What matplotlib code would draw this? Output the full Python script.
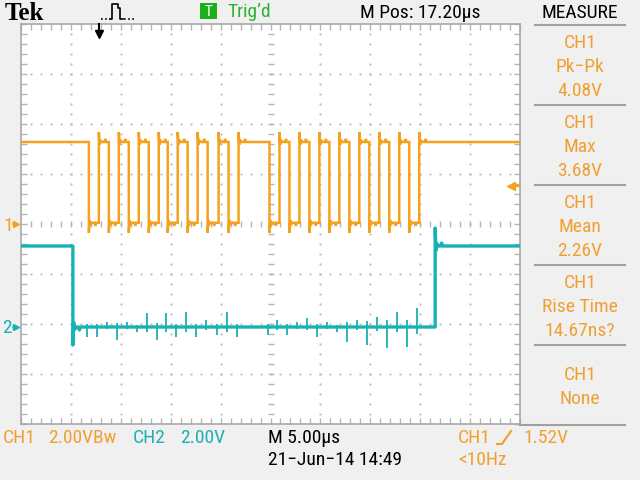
import numpy as np
import matplotlib
matplotlib.use("Agg")
import matplotlib.pyplot as plt
from matplotlib.lines import Line2D
from matplotlib.patches import Rectangle
from matplotlib import font_manager

# ---------------- data ----------------
mpos_us = 17.20            # horizontal position (screen centre), µs after trigger
time_per_div_us = 5.0
ch1_volts_per_div = 2.0
ch2_volts_per_div = 2.0
ch2_ground_div = -2.06     # CH2 ground marker position (divisions)
trig_level_v = 1.52

# CH1 (data/clock bursts): edge times in µs relative to trigger, starts high
ch1_edges_us = [-1.0, 0.0, 1.0, 2.0, 3.0, 4.0, 5.0, 6.0, 6.9, 7.9, 8.9, 9.9,
                10.9, 12.0, 13.0, 14.0,
                17.1, 18.1, 19.1, 20.1, 21.1, 22.1, 23.1, 24.1, 25.1, 26.1,
                27.1, 28.1, 29.1, 30.1, 31.1, 32.1]
ch1_high_v = 3.28
ch1_low_v = 0.05
ch1_overshoot_v = 0.40

# CH2 (chip select): starts high
ch2_edges_us = [-2.6, 33.7]
ch2_high_v = 3.24
ch2_low_v = 0.0
ch2_overshoot_v = 0.72
# crosstalk spikes on CH2 at each CH1 edge (V, signed)
ch2_spike_v = [-0.40, -0.40, 0.20, -0.50, 0.20, -0.20, 0.56, -0.50,
               0.56, -0.40, 0.60, -0.40, 0.30, -0.30, 0.60, -0.40,
               -0.30, 0.30, -0.30, 0.20, 0.36, -0.40, 0.20, -0.20,
               -0.60, 0.30, -0.70, 0.40, -0.84, 0.60, -0.80, 0.76]

meas_source = ["CH1", "CH1", "CH1", "CH1", "CH1"]
meas_name = ["Pk\u2212Pk", "Max", "Mean", "Rise Time", "None"]
meas_value = ["4.08V", "3.68V", "2.26V", "14.67ns?", ""]

# ---------------- styling ----------------
ORANGE = "#F4A21E"
ORANGE_TXT = "#F0A030"
TEAL = "#17B2B2"
TEAL_TXT = "#1FB0B0"
GRID = "#B4B4B4"
BG = "#F0F0F0"

names = {f.name for f in font_manager.fontManager.ttflist}
_pref = ["Liberation Sans Narrow", "Roboto Condensed", "DejaVu Sans Condensed"]
_narrow = [n for n in _pref if n in names]
if _narrow:
    NARROW = [_narrow[0], "DejaVu Sans"]
    FS = 14
else:
    NARROW = ["Liberation Sans", "DejaVu Sans"]
    FS = 13

W, H = 640, 480
fig = plt.figure(figsize=(6.4, 4.8), dpi=100, facecolor=BG)


def P(x, y):
    return (x / W, 1 - y / H)


def ftext(x, y, s, color="black", ha="left", size=None, family=None, **kw):
    fx, fy = P(x, y)
    fig.text(fx, fy, s, color=color, ha=ha, va="baseline", fontsize=size or FS,
             family=family or NARROW, **kw)


def fline(xs, ys, color, lw=1.0, **kw):
    fx = [x / W for x in xs]
    fy = [1 - y / H for y in ys]
    fig.add_artist(Line2D(fx, fy, color=color, lw=lw, transform=fig.transFigure, **kw))


ax = fig.add_axes([21 / W, 1 - 424 / H, 499 / W, 400 / H])
ax.set_facecolor("white")
ax.set_xlim(0, 10)
ax.set_ylim(-4, 4)
for s in ax.spines.values():
    s.set_color("#A8A8A8")
    s.set_linewidth(1.2)
ax.set_xticks(np.arange(0, 10.01, 1.0))
ax.set_yticks(np.arange(-4, 4.01, 1.0))
ax.set_xticks(np.arange(0, 10.01, 0.2), minor=True)
ax.set_yticks(np.arange(-4, 4.01, 0.2), minor=True)
ax.tick_params(which="both", direction="in", length=4, width=1, color=GRID,
               top=True, right=True, labelbottom=False, labelleft=False)

# graticule dots
yy = np.arange(-3.8, 3.81, 0.2)
xx = np.arange(0.2, 9.81, 0.2)
for gx in range(1, 10):
    if gx == 5:
        continue
    ax.plot([gx] * len(yy), yy, ls="none", marker="s", ms=1.3, mew=0, color=GRID)
for gy in range(-3, 4):
    if gy == 0:
        continue
    ax.plot(xx, [gy] * len(xx), ls="none", marker="s", ms=1.3, mew=0, color=GRID)
# centre lines with tick marks
ax.plot(xx, [0] * len(xx), ls="none", marker="|", ms=5, mew=1, color=GRID)
ax.plot([5] * len(yy), yy, ls="none", marker="_", ms=5, mew=1, color=GRID)


def tdiv(t):
    return (np.asarray(t, dtype=float) - (mpos_us - 5 * time_per_div_us)) / time_per_div_us


def square(edges, hi, lo, os_v):
    t0 = mpos_us - 5 * time_per_div_us
    t1 = mpos_us + 5 * time_per_div_us
    ts, vs = [t0], [hi]
    cur = True
    for e in edges:
        prev = hi if cur else lo
        cur = not cur
        new = hi if cur else lo
        sg = 1 if cur else -1
        ts += [e, e, e + 0.08, e + 0.2, e + 0.35, e + 0.55, e + 0.65, e + 0.75]
        vs += [prev, new + sg * os_v, new - sg * os_v * 0.25, new + sg * os_v * 0.12,
               new, new, new + sg * 0.12, new]
    ts.append(t1)
    vs.append(hi if cur else lo)
    return np.array(ts), np.array(vs)


# CH1 trace
t1, v1 = square(ch1_edges_us, ch1_high_v, ch1_low_v, ch1_overshoot_v)
ax.plot(tdiv(t1), v1 / ch1_volts_per_div, color=ORANGE, lw=1.8, solid_joinstyle="miter",
        zorder=5)

# CH2 trace
t2, v2 = square(ch2_edges_us, ch2_high_v, ch2_low_v, ch2_overshoot_v)
ax.plot(tdiv(t2), v2 / ch2_volts_per_div + ch2_ground_div, color=TEAL, lw=2.4, zorder=4)
sp_t = tdiv(np.array(ch1_edges_us) - 0.2)
sp_a = np.array(ch2_spike_v)
base = ch2_low_v / ch2_volts_per_div + ch2_ground_div
ax.vlines(sp_t, base - 0.35 * sp_a / ch2_volts_per_div, base + sp_a / ch2_volts_per_div,
          color=TEAL, lw=1.3, zorder=4)

# channel markers
ax.plot([-0.1], [0.0], marker=">", ms=5, color=ORANGE, clip_on=False)
ax.plot([-0.16, -0.08], [0.0, 0.0], color=ORANGE, lw=1.2, clip_on=False)
ax.plot([-0.1], [ch2_ground_div], marker=">", ms=5, color=TEAL, clip_on=False)
ax.plot([-0.16, -0.08], [ch2_ground_div] * 2, color=TEAL, lw=1.2, clip_on=False)
ftext(3, 231, "1", color=ORANGE_TXT)
ftext(2, 333, "2", color=TEAL_TXT)

# trigger level marker (right)
ty = trig_level_v / ch1_volts_per_div
ax.plot([9.82], [ty], marker="<", ms=6, color=ORANGE, clip_on=False, zorder=6)
ax.plot([9.82, 10.0], [ty, ty], color=ORANGE, lw=1.5, clip_on=False, zorder=6)

# trigger position marker (top)
tx = float(tdiv(0.0))
ax.plot([tx, tx], [4.0, 3.82], color="black", lw=1.5, clip_on=False, zorder=6)
ax.plot([tx], [3.80], marker="v", ms=6, color="black", clip_on=False, zorder=6)

# ---------------- header ----------------
ftext(5, 20, "Tek", size=18, family=["Liberation Serif", "DejaVu Serif"], weight="bold")
# pulse icon
fline([101, 110], [19, 19], "black", lw=1.2, ls=(0, (1, 1.5)))
fline([110, 112, 112, 118, 118, 120, 120, 123], [19, 19, 4, 4, 8, 8, 19, 19], "black", lw=1.2)
fline([124, 135], [19, 19], "black", lw=1.2, ls=(0, (1, 1.5)))
fig.add_artist(Rectangle(P(200, 19), 17 / W, 16 / H, transform=fig.transFigure,
                         facecolor="#1CAF1C", edgecolor="none"))
ftext(208.5, 16.5, "T", color="white", ha="center", size=11)
ftext(227, 17, "Trig\u2019d", color="#2AB22A")
ftext(360, 18, "M Pos: 17.20\u00b5s")
ftext(580, 18, "MEASURE", ha="center")

# ---------------- measure panel ----------------
for k in range(5):
    ys = 25 + 80 * k
    fline([535, 625], [ys, ys], "#A0A0A0", lw=1.5)
fline([520, 625], [424.5, 424.5], "#A0A0A0", lw=1.5)
for k in range(5):
    ys = 25 + 80 * k
    if meas_value[k]:
        ftext(580, ys + 23.5, meas_source[k], color=ORANGE_TXT, ha="center")
        ftext(580, ys + 47.5, meas_name[k], color=ORANGE_TXT, ha="center")
        ftext(580, ys + 71.5, meas_value[k], color=ORANGE_TXT, ha="center")
    else:
        ftext(580, ys + 34.5, meas_source[k], color=ORANGE_TXT, ha="center")
        ftext(580, ys + 58.5, meas_name[k], color=ORANGE_TXT, ha="center")

# ---------------- footer ----------------
ftext(3, 443, "CH1", color=ORANGE_TXT)
ftext(48, 443, "2.00VBw", color=ORANGE_TXT)
ftext(133, 443, "CH2", color=TEAL_TXT)
ftext(180, 443, "2.00V", color=TEAL_TXT)
ftext(268, 443, "M 5.00\u00b5s")
ftext(268, 465, "21\u2212Jun\u221214 14:49")
ftext(458, 443, "CH1", color=ORANGE_TXT)
fline([497, 502, 511], [444, 444, 431], ORANGE_TXT, lw=1.5)
ftext(523, 443, "1.52V", color=ORANGE_TXT)
ftext(458, 465, "<10Hz", color=ORANGE_TXT)

fig.savefig("out.png", dpi=100, facecolor=BG)
